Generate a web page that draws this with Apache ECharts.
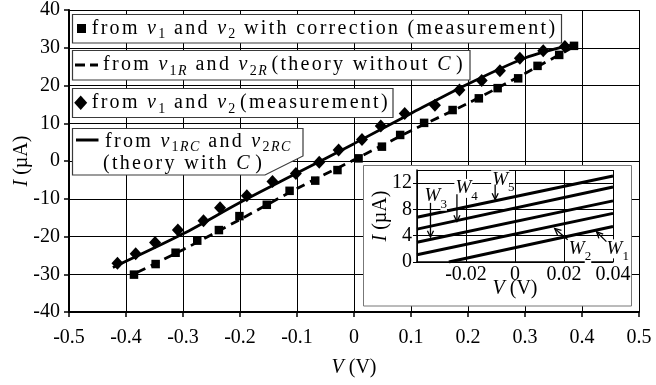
<!DOCTYPE html>
<html>
<head>
<meta charset="utf-8">
<script src="https://cdn.jsdelivr.net/npm/echarts@6.0.0/dist/echarts.min.js"></script>
<style>
  html, body { margin: 0; padding: 0; background: #fff; }
  #chart { width: 656px; height: 385px; }
</style>
</head>
<body>
<div id="chart"></div>
<script>
// ---- main plot: V (V) against I (uA)
// squares: from v1 and v2 with correction (measurement)
const corrV = [-0.386, -0.348, -0.313, -0.275, -0.237, -0.201, -0.153, -0.113, -0.068, -0.029, 0.008, 0.049, 0.081, 0.123, 0.173, 0.219, 0.252, 0.288, 0.322, 0.360, 0.386]
const corrI = [-30.1, -27.3, -24.3, -21.1, -18.3, -14.6, -11.6, -7.9, -5.2, -2.4, 0.7, 3.8, 6.9, 10.1, 13.5, 16.6, 19.3, 21.9, 25.2, 28.1, 30.5]
// diamonds: from v1 and v2 (measurement)
const measV = [-0.415, -0.383, -0.349, -0.309, -0.264, -0.235, -0.188, -0.143, -0.102, -0.061, -0.027, 0.014, 0.047, 0.089, 0.142, 0.185, 0.224, 0.256, 0.291, 0.332, 0.370]
const measI = [-27.1, -24.6, -21.6, -18.3, -15.8, -12.4, -9.2, -5.4, -3.3, -0.3, 2.9, 5.7, 9.3, 12.6, 14.8, 18.8, 21.3, 23.9, 27.2, 29.2, 30.3]
// dashed: theory without C
const theoRV = [-0.38, -0.3, -0.2, -0.1, 0, 0.1, 0.2, 0.3, 0.385]
const theoRI = [-29.5, -23.5, -15.5, -7.3, 0.3, 8.0, 15.3, 23.2, 30.2]
// solid: theory with C
const theoRCV = [-0.423, -0.3, -0.2, -0.1, 0, 0.1, 0.2, 0.3, 0.379]
const theoRCI = [-28.2, -19.3, -11.0, -3.2, 4.6, 12.6, 20.4, 27.3, 30.7]

// ---- inset: lines W1..W5 (start / end points)
const wNames = ['1', '2', '3', '4', '5']
const wStartV = [-0.027, -0.04, -0.04, -0.04, -0.04]
const wStartI = [0, 1.1, 3.0, 5.0, 6.8]
const wEndV = [0.04, 0.04, 0.04, 0.04, 0.04]
const wEndI = [5.4, 7.4, 9.3, 11.4, 13.1]

// tag + arrow placement for the W labels (inset data coords)
const tagAt = [[0.0406, 2.0], [0.0252, 2.0], [-0.0337, 10.0], [-0.0211, 11.2], [-0.0061, 12.5]]
const arrowFrom = [[0.0373, 3.1], [0.0215, 3.4], [-0.0345, 9.0], [-0.0237, 10.3], [-0.0081, 11.8]]
const arrowTo = [[0.0333, 4.6], [0.0162, 5.1], [-0.0345, 3.8], [-0.0237, 6.15], [-0.0081, 9.5]]

const FONT = 'Liberation Serif'
const LEGEND_FAMILY = '"Liberation Serif", serif'
const pair = (xs, ys) => xs.map((x, i) => [x, ys[i]])

// the legend text of the original is letter-spaced; zrender has no letterSpacing,
// so text drawn in the legend font stack gets it at draw time
const LEGEND_LS = 2.3
const baseFillText = CanvasRenderingContext2D.prototype.fillText
CanvasRenderingContext2D.prototype.fillText = function (s, x, y, w) {
  const spaced = 'letterSpacing' in this && this.font.indexOf(', serif') >= 0
  const prev = spaced ? this.letterSpacing : null
  if (spaced) this.letterSpacing = LEGEND_LS + 'px'
  if (w === undefined) baseFillText.call(this, s, x, y)
  else baseFillText.call(this, s, x, y, w)
  if (spaced) this.letterSpacing = prev
}

const chart = echarts.init(document.getElementById('chart'), null, { renderer: 'canvas' })

const axisText = { fontFamily: FONT, fontSize: 20, color: '#000' }
const nameStyle = {
  fontFamily: FONT, fontSize: 20, color: '#000',
  rich: { i: { fontFamily: FONT, fontSize: 20, fontStyle: 'italic', color: '#000' } }
}

const wSeries = wNames.map((n, i) => ({
  type: 'line',
  name: 'W' + n,
  xAxisIndex: 1,
  yAxisIndex: 1,
  z: 3,
  data: [[wStartV[i], wStartI[i]], [wEndV[i], wEndI[i]]],
  showSymbol: false,
  lineStyle: { color: '#000', width: 3 }
}))

const option = {
  animation: false,
  backgroundColor: '#fff',
  grid: [
    { left: 69, right: 17, top: 10, bottom: 73, outerBoundsMode: 'none' },
    { left: 417, right: 43, top: 170, bottom: 123, outerBoundsMode: 'none' }
  ],
  xAxis: [
    {
      gridIndex: 0, type: 'value', min: -0.5, max: 0.5, interval: 0.1,
      name: '{i|V} (V)', nameLocation: 'middle', nameGap: 46, nameMoveOverlap: false,
      nameTextStyle: nameStyle,
      axisLine: { onZero: false, lineStyle: { color: '#000', width: 2 } },
      axisTick: { length: 5, lineStyle: { color: '#000', width: 1.5 } },
      splitLine: { show: true, lineStyle: { color: '#000', width: 1 } },
      axisLabel: { ...axisText, margin: 16, formatter: v => String(Math.round(v * 10) / 10) }
    },
    {
      gridIndex: 1, type: 'value', min: -0.04, max: 0.04, interval: 0.02, z: 2,
      name: '{i|V} (V)', nameLocation: 'middle', nameGap: 17, nameMoveOverlap: false,
      nameTextStyle: nameStyle,
      axisLine: { onZero: false, lineStyle: { color: '#000', width: 1.5 } },
      axisTick: { inside: true, length: 4, lineStyle: { color: '#000' } },
      splitLine: { show: true, lineStyle: { color: '#000', width: 1 } },
      axisLabel: { ...axisText, margin: 3, showMinLabel: false, formatter: v => String(Math.round(v * 100) / 100) }
    }
  ],
  yAxis: [
    {
      gridIndex: 0, type: 'value', min: -40, max: 40, interval: 10,
      name: '{i|I} (µA)', nameLocation: 'middle', nameGap: 37, nameMoveOverlap: false,
      nameTextStyle: nameStyle,
      axisLine: { show: true, onZero: false, lineStyle: { color: '#000', width: 2 } },
      axisTick: { show: true, length: 5, lineStyle: { color: '#000', width: 1.5 } },
      splitLine: { show: true, lineStyle: { color: '#000', width: 1 } },
      axisLabel: { ...axisText, margin: 9 }
    },
    {
      gridIndex: 1, type: 'value', min: 0, max: 14, interval: 4, z: 2,
      name: '{i|I} (µA)', nameLocation: 'middle', nameGap: 26, nameMoveOverlap: false,
      nameTextStyle: nameStyle,
      axisLine: { show: true, onZero: false, lineStyle: { color: '#000', width: 1.5 } },
      axisTick: { show: true, length: 4, lineStyle: { color: '#000' } },
      splitLine: { show: true, lineStyle: { color: '#000', width: 1 } },
      axisLabel: { ...axisText, margin: 5, showMaxLabel: false }
    }
  ],
  series: [
    {
      type: 'line', name: 'theory without C', data: pair(theoRV, theoRI),
      smooth: 0.3, showSymbol: false,
      lineStyle: { color: '#000', width: 2.8, type: [9, 6] }
    },
    {
      type: 'line', name: 'theory with C', data: pair(theoRCV, theoRCI),
      smooth: 0.3, showSymbol: false,
      lineStyle: { color: '#000', width: 2.8 }
    },
    {
      type: 'scatter', name: 'with correction', data: pair(corrV, corrI),
      symbol: 'rect', symbolSize: 8.5, itemStyle: { color: '#000', opacity: 1 }
    },
    {
      type: 'scatter', name: 'measurement', data: pair(measV, measI),
      symbol: 'diamond', symbolSize: [12, 13], itemStyle: { color: '#000', opacity: 1 }
    },
    ...wSeries
  ]
}
chart.setOption(option)

// ---- text helpers: words are laid out one by one so the spacing can be matched
const mctx = document.createElement('canvas').getContext('2d')
const textW = (s, font) => { mctx.font = font; return mctx.measureText(s).width }
const fonts = {
  n: `20px ${LEGEND_FAMILY}`,
  i: `italic 20px ${LEGEND_FAMILY}`,
  s: `14px ${LEGEND_FAMILY}`,
  si: `italic 14px ${LEGEND_FAMILY}`,
  tag: `italic 19px "${FONT}"`,
  tagSub: `13px "${FONT}"`
}
const txt = (s, x, y, font, z) => ({
  type: 'text', z: z,
  style: { text: s, x: x, y: y, font: font, fill: '#000', textAlign: 'left', align: 'left', textVerticalAlign: 'middle', verticalAlign: 'middle' }
})

// token: [text, face, glued]; glued tokens follow with only a small gap
function wordsLine (tokens, x0, y) {
  const out = []
  const sp = textW(' ', fonts.n) + LEGEND_LS
  let x = x0
  tokens.forEach((tk, k) => {
    const f = tk[1] || 'n'
    const sub = f === 's' || f === 'si'
    if (k > 0 && !sub) x += tk[2] ? sp * 0.45 : sp
    out.push(txt(tk[0], x, y + (sub ? 6 : 0), fonts[f], 11))
    x += textW(tk[0], fonts[f]) + (sub ? 1.5 : LEGEND_LS * tk[0].length)
  })
  return out
}

const boxStyle = { fill: '#fff', stroke: '#3a3a3a', lineWidth: 1.2 }
const g = []

// legend box 1
g.push({ type: 'rect', z: 10, shape: { x: 72.5, y: 14.5, width: 489, height: 28.5 }, style: boxStyle })
g.push({ type: 'rect', z: 11, shape: { x: 77, y: 24, width: 9, height: 9 }, style: { fill: '#000' } })
g.push(...wordsLine([['from'], ['v', 'i'], ['1', 's'], ['and'], ['v', 'i'], ['2', 's'], ['with'], ['correction'], ['(measurement)']], 91.7, 28.3))

// legend box 2
g.push({ type: 'rect', z: 10, shape: { x: 72.5, y: 50.5, width: 397.5, height: 29.5 }, style: boxStyle })
g.push({ type: 'line', z: 11, shape: { x1: 75, y1: 65, x2: 85, y2: 65 }, style: { stroke: '#000', lineWidth: 3 } })
g.push({ type: 'line', z: 11, shape: { x1: 90, y1: 65, x2: 98, y2: 65 }, style: { stroke: '#000', lineWidth: 3 } })
g.push(...wordsLine([['from'], ['v', 'i'], ['1', 's'], ['R', 'si'], ['and'], ['v', 'i'], ['2', 's'], ['R', 'si'], ['(theory', 'n', 1], ['without'], ['C', 'i'], [')', 'n', 1]], 103, 65))

// legend box 3
g.push({ type: 'rect', z: 10, shape: { x: 72.5, y: 88.5, width: 320.5, height: 29 }, style: boxStyle })
g.push({ type: 'polygon', z: 11, shape: { points: [[80.7, 95.5], [87.2, 102.7], [80.7, 110], [74.2, 102.7]] }, style: { fill: '#000' } })
g.push(...wordsLine([['from'], ['v', 'i'], ['1', 's'], ['and'], ['v', 'i'], ['2', 's'], ['(measurement)', 'n', 1]], 91.7, 103))

// legend box 4 (callout shape)
g.push({ type: 'polygon', z: 10, shape: { points: [[72.5, 128.5], [303, 128.5], [303, 156], [265, 175], [72.5, 175]] }, style: boxStyle })
g.push({ type: 'line', z: 11, shape: { x1: 76, y1: 140, x2: 98.5, y2: 140 }, style: { stroke: '#000', lineWidth: 3 } })
g.push(...wordsLine([['from'], ['v', 'i'], ['1', 's'], ['R', 'si'], ['C', 'si'], ['and'], ['v', 'i'], ['2', 's'], ['R', 'si'], ['C', 'si']], 105, 141.5))
g.push(...wordsLine([['(theory'], ['with'], ['C', 'i'], [')', 'n', 1]], 103, 163.3))

// inset frame
g.push({ type: 'rect', z: 1, shape: { x: 363.5, y: 165.5, width: 268, height: 140.5 }, style: { fill: '#fff', stroke: '#777', lineWidth: 1 } })

// inset W tags and arrows, placed through the inset axes
const toPx = p => chart.convertToPixel({ gridIndex: 1 }, p)
wNames.forEach((n, i) => {
  const c = toPx(tagAt[i])
  g.push({
    type: 'text', z: 6,
    style: { text: 'W', x: c[0], y: c[1], font: fonts.tag, fill: '#000', backgroundColor: '#fff', padding: [0, 1], textAlign: 'center', align: 'center', textVerticalAlign: 'middle', verticalAlign: 'middle' }
  })
  g.push({
    type: 'text', z: 6,
    style: { text: n, x: c[0] + 8, y: c[1] + 8, font: fonts.tagSub, fill: '#000', backgroundColor: '#fff', textAlign: 'left', align: 'left', textVerticalAlign: 'middle', verticalAlign: 'middle' }
  })
  const a = toPx(arrowFrom[i])
  const b = toPx(arrowTo[i])
  const ang = Math.atan2(b[1] - a[1], b[0] - a[0])
  const h = 7
  const spread = 0.45
  g.push({ type: 'line', z: 7, shape: { x1: a[0], y1: a[1], x2: b[0], y2: b[1] }, style: { stroke: '#000', lineWidth: 1.3 } })
  g.push({
    type: 'polyline', z: 7,
    shape: { points: [[b[0] - h * Math.cos(ang - spread), b[1] - h * Math.sin(ang - spread)], [b[0], b[1]], [b[0] - h * Math.cos(ang + spread), b[1] - h * Math.sin(ang + spread)]] },
    style: { stroke: '#000', lineWidth: 1.3, fill: null }
  })
})

chart.setOption({ graphic: { elements: g } })
</script>
</body>
</html>
